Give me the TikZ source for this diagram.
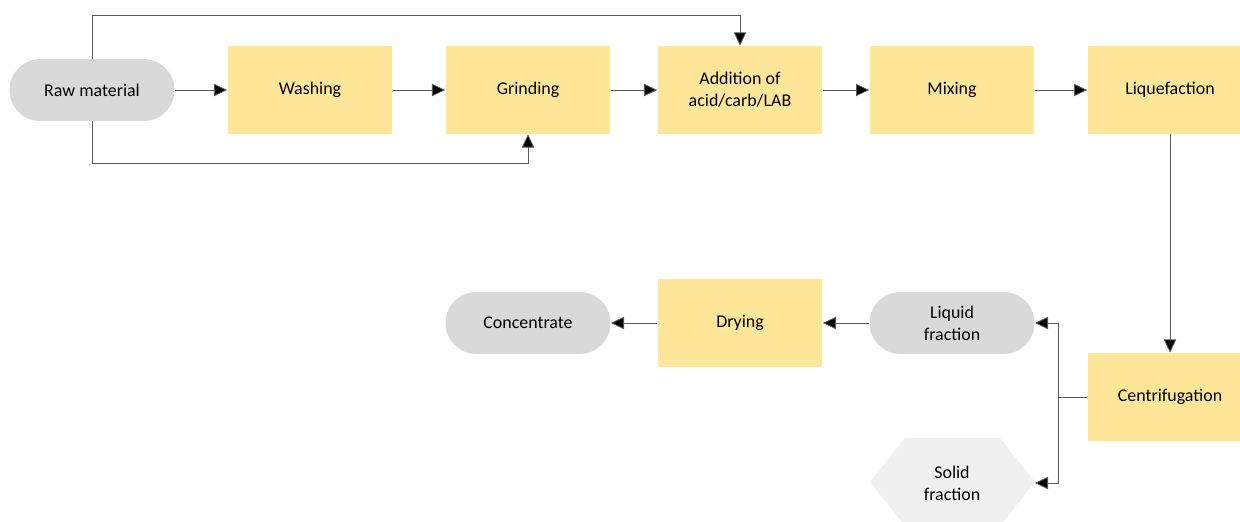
\documentclass[tikz,border=0pt]{standalone}
\usepackage{fontspec}
\setmainfont{Carlito}
\usetikzlibrary{arrows.meta}
\definecolor{stepyellow}{HTML}{FFE699}
\definecolor{pillgrey}{HTML}{D9D9D9}
\definecolor{hexgrey}{HTML}{F0F0F0}
\definecolor{linegrey}{HTML}{5A5A5A}
\begin{document}
\begin{tikzpicture}[x=0.02cm,y=-0.02cm,
  font=\fontsize{10.2}{12.5}\selectfont,
  stepbox/.style={fill=stepyellow,minimum width=3.3cm,minimum height=1.76cm,align=center,inner sep=0pt},
  pill/.style={fill=pillgrey,rounded corners=0.62cm,minimum width=3.3cm,minimum height=1.24cm,align=center,inner sep=0pt},
  hexnode/.style={minimum width=3.3cm,minimum height=1.76cm,align=center,inner sep=0pt},
  flow/.style={draw=linegrey,line width=0.5pt,-{Triangle[length=7.5pt,width=7pt,fill=black]}},
  plain/.style={draw=linegrey,line width=0.5pt}]
\clip (0,0) rectangle (1240,521);

% top row
\node[pill] (raw) at (92,90) {Raw material};
\node[stepbox] (wash) at (310,90) {Washing};
\node[stepbox] (grind) at (528,90) {Grinding};
\node[stepbox] (add) at (740,90) {Addition of\\acid/carb/LAB};
\node[stepbox] (mix) at (952,90) {Mixing};
\node[stepbox] (liq) at (1170,90) {Liquefaction};

% bottom part
\node[stepbox] (centri) at (1170,397) {Centrifugation};
\node[pill] (liquid) at (952,323) {Liquid\\fraction};
\node[stepbox] (dry) at (740,323) {Drying};
\node[pill] (conc) at (528,323) {Concentrate};
\fill[hexgrey] (870,482) -- (905,438) -- (1000,438) -- (1035,482) -- (1000,526) -- (905,526) -- cycle;
\node[hexnode] (solid) at (952,483) {Solid\\fraction};

\draw[flow] (raw) -- (wash);
\draw[flow] (wash) -- (grind);
\draw[flow] (grind) -- (add);
\draw[flow] (add) -- (mix);
\draw[flow] (mix) -- (liq);
\draw[flow] (raw.north) |- (740,15) -- (add.north);
\draw[flow] (raw.south) |- (528,163) -- (grind.south);
\draw[flow] (liq) -- (centri);

\coordinate (split) at (1058,397);
\draw[plain] (centri.west) -- (split);
\draw[flow] (split) |- (liquid.east);
\draw[flow] (split) |- (solid.east);
\draw[flow] (liquid) -- (dry);
\draw[flow] (dry) -- (conc);
\end{tikzpicture}
\end{document}
